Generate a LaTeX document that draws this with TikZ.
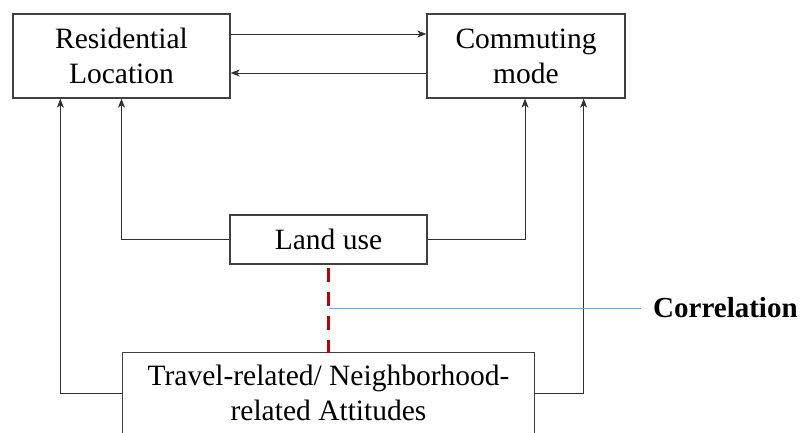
\documentclass[tikz,border=0pt]{standalone}
\usepackage{fontspec}
\setmainfont{Liberation Serif}
\usetikzlibrary{arrows.meta}
\definecolor{boxline}{HTML}{404040}
\definecolor{linkline}{HTML}{303030}
\definecolor{corrred}{HTML}{C00000}
\definecolor{corrblue}{HTML}{7FA3D4}
\begin{document}
\begin{tikzpicture}[x=1pt,y=-1pt,
  txt/.style={align=center,inner sep=0pt,font=\fontsize{29.5}{35}\selectfont},
  box/.style={txt,draw=boxline,line width=1.3pt,fill=white},
  link/.style={draw=linkline,line width=1pt,-{Stealth[length=9pt,width=7pt,inset=2.5pt]}},
  frame/.style={draw=boxline,line width=1.3pt}]
\useasboundingbox (0,0) rectangle (803,432);
\clip (0,0) rectangle (803,432);
% blocks
\node[box,minimum width=217pt,minimum height=84pt] (res) at (121.5,56) {Residential\\Location};
\node[box,minimum width=198pt,minimum height=84pt] (com) at (526,56) {Commuting\\mode};
\node[box,minimum width=197pt,minimum height=49pt] (land) at (328.5,239.5) {Land use};
\node[txt,fill=white,minimum width=411pt,minimum height=80pt] (att) at (328.5,393) {Travel-related/ Neighborhood-\\related Attitudes};
\draw[frame] ([yshift=-30pt]att.south west) |- (att.north) -| ([yshift=-30pt]att.south east);
\node[font=\fontsize{29}{35}\selectfont\bfseries,anchor=west,inner sep=0pt] (corr) at (653,308) {Correlation};
% two-way link between the top blocks
\draw[link] (res.east |- 0,34) -- (com.west |- 0,34);
\draw[link] (com.west |- 0,73) -- (res.east |- 0,73);
% land use to both top blocks
\draw[link] (land.west) -| (res.south);
\draw[link] (land.east) -| ([xshift=-1pt]com.south);
% attitudes to both top blocks
\draw[link] (att.west) -| ([xshift=48pt]res.south west);
\draw[link] (att.east) -| ([xshift=-42pt]com.south east);
% correlation between land use and attitudes
\draw[corrred,line width=3pt,dash pattern=on 14pt off 10pt,dash phase=-3pt] (land.south) -- (att.north);
\coordinate (cj) at (328.5,308);
\draw[corrblue,line width=1pt] (cj) -- ([xshift=-12pt]corr.west);
\end{tikzpicture}
\end{document}
